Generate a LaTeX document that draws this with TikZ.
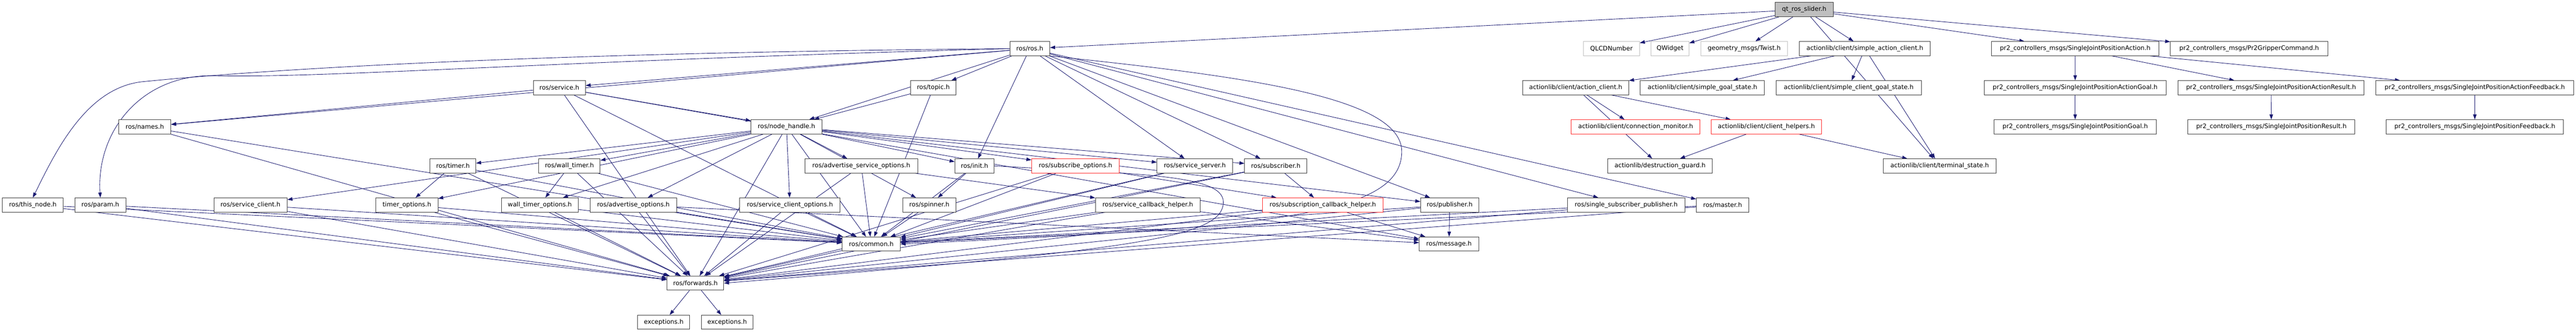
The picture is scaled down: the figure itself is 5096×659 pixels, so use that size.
\documentclass[tikz,border=0pt]{standalone}
\usepackage{fontspec}
\setmainfont{DejaVu Sans}
\usetikzlibrary{arrows.meta}
\pgfdeclarelayer{bg}
\pgfsetlayers{bg,main}
\definecolor{edgec}{RGB}{25,25,112}
\definecolor{boxc}{RGB}{60,60,60}
\definecolor{redc}{RGB}{255,40,40}
\definecolor{grayc}{RGB}{191,191,191}
\newcommand\mynd[6]{\node[#6, minimum width={(#3-#2)*1pt}] (#1) at ({(#2+#3)/2},{18.9+77.4*#4}) {#5};}
\tikzset{
  box/.style={draw=boxc, fill=white, line width=1pt, minimum height=28pt, inner sep=0pt, font=\fontsize{12.3}{14}\selectfont},
  redbox/.style={box, draw=redc},
  graybox/.style={box, draw=grayc},
  rootbox/.style={box, fill=grayc},
  dep/.style={draw=edgec, line width=0.9pt, -{Triangle[length=10pt,width=7pt]}}
}
\begin{document}
\begin{tikzpicture}[x=1pt,y=-1pt]
\useasboundingbox (0,0) rectangle (5096,659);
% row 0
\mynd{qt}{3511.7}{3626.7}{0}{qt\_ros\_slider.h}{rootbox}
% row 1
\mynd{ros}{1997.7}{2076.7}{1}{ros/ros.h}{box}
\mynd{qlcd}{3132.3}{3243.3}{1}{QLCDNumber}{graybox}
\mynd{qwidget}{3266.3}{3341.3}{1}{QWidget}{graybox}
\mynd{twist}{3365}{3536}{1}{geometry\_msgs/Twist.h}{graybox}
\mynd{sac}{3560}{3818.3}{1}{actionlib/client/simple\_action\_client.h}{box}
\mynd{sjpa}{3939.7}{4270.7}{1}{pr2\_controllers\_msgs/SingleJointPositionAction.h}{box}
\mynd{grip}{4293.7}{4605}{1}{pr2\_controllers\_msgs/Pr2GripperCommand.h}{box}
% row 2
\mynd{service}{1055}{1158}{2}{ros/service.h}{box}
\mynd{topic}{1801.7}{1891}{2}{ros/topic.h}{box}
\mynd{ac}{3012.3}{3222}{2}{actionlib/client/action\_client.h}{box}
\mynd{sgs}{3245}{3490.7}{2}{actionlib/client/simple\_goal\_state.h}{box}
\mynd{scgs}{3513.3}{3801}{2}{actionlib/client/simple\_client\_goal\_state.h}{box}
\mynd{sjpag}{3925}{4285.3}{2}{pr2\_controllers\_msgs/SingleJointPositionActionGoal.h}{box}
\mynd{sjpar}{4308.3}{4677}{2}{pr2\_controllers\_msgs/SingleJointPositionActionResult.h}{box}
\mynd{sjpaf}{4700.3}{5091.3}{2}{pr2\_controllers\_msgs/SingleJointPositionActionFeedback.h}{box}
% row 3
\mynd{names}{235}{338}{3}{ros/names.h}{box}
\mynd{nh}{1485.7}{1626}{3}{ros/node\_handle.h}{box}
\mynd{cm}{3108.3}{3363.3}{3}{actionlib/client/connection\_monitor.h}{redbox}
\mynd{ch}{3385.7}{3603}{3}{actionlib/client/client\_helpers.h}{redbox}
\mynd{sjpg}{3945}{4265.3}{3}{pr2\_controllers\_msgs/SingleJointPositionGoal.h}{box}
\mynd{sjpr}{4328.3}{4658.3}{3}{pr2\_controllers\_msgs/SingleJointPositionResult.h}{box}
\mynd{sjpf}{4720.3}{5071.3}{3}{pr2\_controllers\_msgs/SingleJointPositionFeedback.h}{box}
% row 4
\mynd{timer}{850.7}{941.3}{4}{ros/timer.h}{box}
\mynd{wtimer}{1065.7}{1187.3}{4}{ros/wall\_timer.h}{box}
\mynd{aso}{1592.3}{1815.3}{4}{ros/advertise\_service\_options.h}{box}
\mynd{init}{1889}{1966.7}{4}{ros/init.h}{box}
\mynd{subopt}{2041}{2214.3}{4}{ros/subscribe\_options.h}{redbox}
\mynd{ss}{2289}{2438.3}{4}{ros/service\_server.h}{box}
\mynd{sub}{2462.3}{2585.3}{4}{ros/subscriber.h}{box}
\mynd{dg}{3180.7}{3387.3}{4}{actionlib/destruction\_guard.h}{box}
\mynd{ts}{3725.7}{3948.7}{4}{actionlib/client/terminal\_state.h}{box}
% row 5
\mynd{thisnode}{4.7}{125.3}{5}{ros/this\_node.h}{box}
\mynd{param}{148.3}{248.7}{5}{ros/param.h}{box}
\mynd{sc}{423}{568}{5}{ros/service\_client.h}{box}
\mynd{to}{743.7}{866.3}{5}{timer\_options.h}{box}
\mynd{wto}{991.7}{1144}{5}{wall\_timer\_options.h}{box}
\mynd{ao}{1167.7}{1338.3}{5}{ros/advertise\_options.h}{box}
\mynd{sco}{1463.3}{1662}{5}{ros/service\_client\_options.h}{box}
\mynd{spinner}{1786.3}{1890.7}{5}{ros/spinner.h}{box}
\mynd{sch}{2167}{2374}{5}{ros/service\_callback\_helper.h}{box}
\mynd{subch}{2497.3}{2736.3}{5}{ros/subscription\_callback\_helper.h}{redbox}
\mynd{pub}{2810.3}{2925.3}{5}{ros/publisher.h}{box}
\mynd{ssp}{3101}{3333}{5}{ros/single\_subscriber\_publisher.h}{box}
\mynd{master}{3356}{3459.3}{5}{ros/master.h}{box}
% row 6
\mynd{common}{1666.3}{1781}{6}{ros/common.h}{box}
\mynd{message}{2807.7}{2925.3}{6}{ros/message.h}{box}
% row 7
\mynd{fwd}{1319.7}{1431.7}{7}{ros/forwards.h}{box}
% row 8
\mynd{exca}{1261.7}{1364.3}{8}{exceptions.h}{box}
\mynd{excb}{1387.3}{1489.7}{8}{exceptions.h}{box}

\begin{pgfonlayer}{bg}
\foreach \a/\b in {qt/ros,qt/qlcd,qt/qwidget,qt/twist,qt/sac,qt/sjpa,qt/grip,qt/ts,
  sac/ac,sac/sgs,sac/scgs,sac/ts,
  sjpa/sjpag,sjpa/sjpar,sjpa/sjpaf,sjpag/sjpg,sjpar/sjpr,sjpaf/sjpf,
  ac/cm,ac/ch,ac/dg,ch/dg,ch/ts,
  ros/service,ros/topic,ros/nh,ros/init,ros/ss,ros/sub,ros/pub,ros/ssp,ros/master,ros/names,
  service/names,service/nh,service/message,service/common,service/fwd,
  topic/nh,topic/common,
  nh/sc,nh/timer,nh/wtimer,nh/aso,nh/init,nh/subopt,nh/ss,nh/sub,nh/pub,nh/spinner,nh/to,nh/wto,nh/ao,nh/sco,nh/common,nh/fwd,
  init/spinner,init/common,spinner/common,
  aso/common,aso/sch,aso/fwd,
  subopt/subch,subopt/common,subopt/fwd,
  ss/common,ss/fwd,sub/subch,sub/common,sub/fwd,
  sch/common,sch/fwd,sch/message,
  subch/common,subch/fwd,subch/message,
  pub/message,pub/common,pub/fwd,
  ssp/common,ssp/fwd,master/common,master/fwd,
  thisnode/common,thisnode/fwd,param/common,param/fwd,names/common,names/fwd,
  sc/common,sc/fwd,timer/to,timer/common,timer/fwd,to/common,to/fwd,
  wtimer/wto,wtimer/common,wtimer/fwd,wto/common,wto/fwd,
  ao/common,ao/fwd,ao/message,sco/common,sco/fwd,
  common/fwd,fwd/exca,fwd/excb}
  \draw[dep] (\a) -- (\b);
\draw[dep] (ros.west) .. controls (1000,105) and (500,140) .. (280,162) .. controls (170,175) and (110,300) .. (thisnode.north);
\draw[dep] (ros.west) .. controls (1100,120) and (650,155) .. (425,150) .. controls (280,146) and (190,260) .. (param.north);
\draw[dep] (ros.south east) .. controls (2450,150) and (2773,190) .. (2773,300) .. controls (2773,430) and (2500,450) .. (common.east);
\draw[dep] (init.east) .. controls (2250,345) and (2420,345) .. (2420,400) .. controls (2420,470) and (2250,495) .. (fwd.east);
\end{pgfonlayer}
\end{tikzpicture}
\end{document}
